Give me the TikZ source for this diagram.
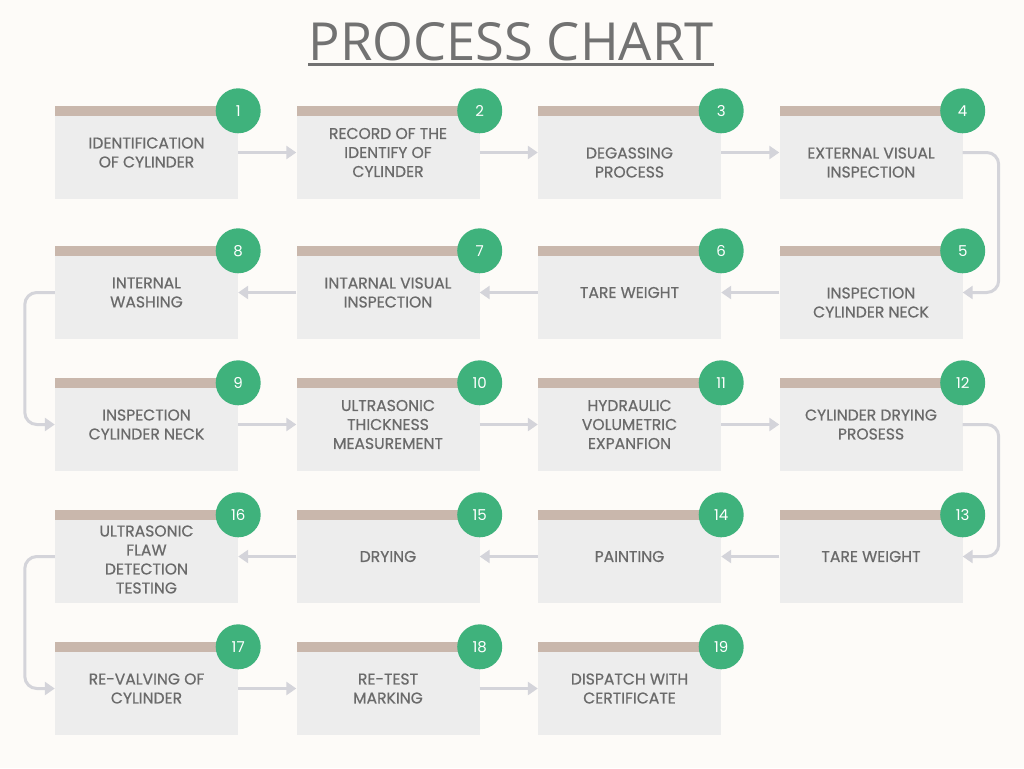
\documentclass[tikz,border=0pt]{standalone}
\usepackage{fontspec}
\setmainfont{Poppins}
\newfontfamily\stepfont{Poppins}[FakeBold=0.6]
\newfontfamily\titlefont{Open Sans}
\usetikzlibrary{arrows.meta}

\definecolor{bgcream}{HTML}{FDFBF8}
\definecolor{boxgrey}{HTML}{EDEDED}
\definecolor{bartan}{HTML}{C9B7AC}
\definecolor{numgreen}{HTML}{3FB27C}
\definecolor{flowgrey}{HTML}{D4D4DA}
\definecolor{textgrey}{HTML}{6A6A6A}
\definecolor{titlegrey}{HTML}{727272}

\tikzset{
  steptext/.style={align=center, text=textgrey, font=\stepfont\fontsize{15.6}{19}\selectfont},
  stepbox/.style={steptext, rectangle, fill=boxgrey, minimum width=183pt, minimum height=93pt, inner sep=0pt,
    path picture={\fill[bartan] (path picture bounding box.north west) rectangle ([yshift=-10pt]path picture bounding box.north east);}},
  stepnum/.style={circle, fill=numgreen, minimum size=45pt, inner sep=0pt, text=white, font=\fontsize{15}{15}\selectfont},
  flow/.style={draw=flowgrey, line width=3pt, -{Triangle[length=10pt,width=13pt]}},
  turn/.style={flow, rounded corners=12pt}
}

\begin{document}
\begin{tikzpicture}[x=1pt, y=-1pt]

        \fill[bgcream] (0,0) rectangle (1024,768);
        \useasboundingbox (0,0) rectangle (1024,768);

        % title
        \node[font=\titlefont\fontsize{52.5}{52.5}\selectfont, text=titlegrey, inner sep=0pt, anchor=base] (title) at (511,60) {PROCESS CHART};
        \draw[titlegrey, line width=3pt] ([yshift=-4.5pt]title.base west) -- ([yshift=-4.5pt]title.base east);

        % row 1
        \node[stepbox] (s1) at (146.5,152.5) {IDENTIFICATION\\OF CYLINDER};
        \node[stepbox] (s2) at (388,152.5) {RECORD OF THE\\IDENTIFY OF\\CYLINDER};
        \node[stepbox, label={[steptext,yshift=-10pt]center:{DEGASSING\\PROCESS}}] (s3) at (629.5,152.5) {};
        \node[stepbox, label={[steptext,yshift=-10pt]center:{EXTERNAL VISUAL\\INSPECTION}}] (s4) at (871,152.5) {};

        % row 2
        \node[stepbox, label={[steptext,yshift=-10pt]center:{INSPECTION\\CYLINDER NECK}}] (s5) at (871,292.5) {};
        \node[stepbox] (s6) at (629.5,292.5) {TARE WEIGHT};
        \node[stepbox] (s7) at (388,292.5) {INTARNAL VISUAL\\INSPECTION};
        \node[stepbox] (s8) at (146.5,292.5) {INTERNAL\\WASHING};

        % row 3
        \node[stepbox] (s9) at (146.5,424.5) {INSPECTION\\CYLINDER NECK};
        \node[stepbox] (s10) at (388,424.5) {ULTRASONIC\\THICKNESS\\MEASUREMENT};
        \node[stepbox] (s11) at (629.5,424.5) {HYDRAULIC\\VOLUMETRIC\\EXPANFION};
        \node[stepbox] (s12) at (871,424.5) {CYLINDER DRYING\\PROSESS};

        % row 4
        \node[stepbox] (s13) at (871,556.5) {TARE WEIGHT};
        \node[stepbox] (s14) at (629.5,556.5) {PAINTING};
        \node[stepbox] (s15) at (388,556.5) {DRYING};
        \node[stepbox, label={[steptext,yshift=-3pt]center:{ULTRASONIC\\FLAW\\DETECTION\\TESTING}}] (s16) at (146.5,556.5) {};

        % row 5
        \node[stepbox] (s17) at (146.5,688.5) {RE-VALVING OF\\CYLINDER};
        \node[stepbox] (s18) at (388,688.5) {RE-TEST\\MARKING};
        \node[stepbox] (s19) at (629.5,688.5) {DISPATCH WITH\\CERTIFICATE};

        % numbers
        \node[stepnum] (n1) at ([yshift=-5pt]s1.north east) {1};
        \node[stepnum] (n2) at ([yshift=-5pt]s2.north east) {2};
        \node[stepnum] (n3) at ([yshift=-5pt]s3.north east) {3};
        \node[stepnum] (n4) at ([yshift=-5pt]s4.north east) {4};
        \node[stepnum] (n5) at ([yshift=-5pt]s5.north east) {5};
        \node[stepnum] (n6) at ([yshift=-5pt]s6.north east) {6};
        \node[stepnum] (n7) at ([yshift=-5pt]s7.north east) {7};
        \node[stepnum] (n8) at ([yshift=-5pt]s8.north east) {8};
        \node[stepnum] (n9) at ([yshift=-5pt]s9.north east) {9};
        \node[stepnum] (n10) at ([yshift=-5pt]s10.north east) {10};
        \node[stepnum] (n11) at ([yshift=-5pt]s11.north east) {11};
        \node[stepnum] (n12) at ([yshift=-5pt]s12.north east) {12};
        \node[stepnum] (n13) at ([yshift=-5pt]s13.north east) {13};
        \node[stepnum] (n14) at ([yshift=-5pt]s14.north east) {14};
        \node[stepnum] (n15) at ([yshift=-5pt]s15.north east) {15};
        \node[stepnum] (n16) at ([yshift=-5pt]s16.north east) {16};
        \node[stepnum] (n17) at ([yshift=-5pt]s17.north east) {17};
        \node[stepnum] (n18) at ([yshift=-5pt]s18.north east) {18};
        \node[stepnum] (n19) at ([yshift=-5pt]s19.north east) {19};

        % connectors
        \draw[flow] (s1.east) -- (s2.west);
        \draw[flow] (s2.east) -- (s3.west);
        \draw[flow] (s3.east) -- (s4.west);
        \draw[turn] (s4.east) -- ++(36,0) |- (s5.east);
        \draw[flow] (s5.west) -- (s6.east);
        \draw[flow] (s6.west) -- (s7.east);
        \draw[flow] (s7.west) -- (s8.east);
        \draw[turn] (s8.west) -- ++(-30,0) |- (s9.west);
        \draw[flow] (s9.east) -- (s10.west);
        \draw[flow] (s10.east) -- (s11.west);
        \draw[flow] (s11.east) -- (s12.west);
        \draw[turn] (s12.east) -- ++(36,0) |- (s13.east);
        \draw[flow] (s13.west) -- (s14.east);
        \draw[flow] (s14.west) -- (s15.east);
        \draw[flow] (s15.west) -- (s16.east);
        \draw[turn] (s16.west) -- ++(-30,0) |- (s17.west);
        \draw[flow] (s17.east) -- (s18.west);
        \draw[flow] (s18.east) -- (s19.west);

\end{tikzpicture}
\end{document}
